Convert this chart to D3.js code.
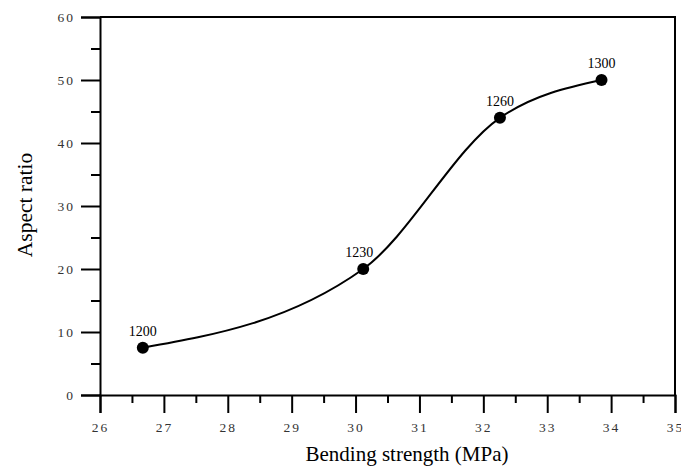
<!DOCTYPE html>
<html>
<head>
<meta charset="utf-8">
<script src="https://cdn.jsdelivr.net/npm/d3@7"></script>
<style>
  body { margin: 0; background: #fff; }
  svg text { font-family: "Liberation Serif", "Times New Roman", serif; }
</style>
</head>
<body>
<svg id="chart" width="681" height="469"></svg>
<script>
// data
const strength = [26.67, 30.12, 32.26, 33.85];
const aspect = [7.5, 20, 44, 50];
const temps = ["1200", "1230", "1260", "1300"];
const xTicks = [26, 27, 28, 29, 30, 31, 32, 33, 34, 35];
const yTicks = [0, 10, 20, 30, 40, 50, 60];

const svg = d3.select("#chart");
const plotL = 100, plotR = 675, plotT = 17, plotB = 395;

let x = d3.scaleLinear().domain([26, 35]).range([plotL, plotR]);
let y = d3.scaleLinear().domain([0, 60]).range([plotB, plotT]);

let points = strength.map((s, i) => ({ x: s, y: aspect[i], label: temps[i] }));

// frame (top and right)
svg.append("path")
    .attr("d", `M${plotL},${plotT}H${plotR}V${plotB}`)
    .attr("fill", "none")
    .attr("stroke", "#000")
    .attr("stroke-width", 2);

// x axis, major + minor ticks
svg.append("g").attr("transform", `translate(0,${plotB})`)
    .call(d3.axisBottom(x).tickValues(xTicks).tickSize(18).tickPadding(9).tickFormat(d3.format("d")));
svg.append("g").attr("transform", `translate(0,${plotB})`)
    .call(d3.axisBottom(x).tickValues(xTicks.slice(0, -1).map(d => d + 0.5)).tickSize(8).tickFormat(""))
    .call(g => g.select(".domain").remove());

// y axis
svg.append("g").attr("transform", `translate(${plotL},0)`)
    .call(d3.axisLeft(y).tickValues(yTicks).tickSize(19).tickPadding(6).tickFormat(d3.format("d")));
svg.append("g").attr("transform", `translate(${plotL},0)`)
    .call(d3.axisLeft(y).tickValues(yTicks.slice(0, -1).map(d => d + 5)).tickSize(9).tickFormat(""))
    .call(g => g.select(".domain").remove());

svg.selectAll(".tick line").attr("stroke", "#000").attr("stroke-width", 2);
svg.selectAll(".domain").attr("stroke", "#000").attr("stroke-width", 2);
svg.selectAll(".tick text")
    .attr("font-size", 13.5)
    .attr("fill", "#333")
    .attr("letter-spacing", "2px")
    .style("font-family", "'Liberation Serif', serif");

// fitted curve
let line = d3.line()
    .x(d => x(d.x))
    .y(d => y(d.y))
    .curve(d3.curveMonotoneX);

svg.append("path")
    .datum(points)
    .attr("d", line)
    .attr("fill", "none")
    .attr("stroke", "#000")
    .attr("stroke-width", 2);

// points and labels
svg.selectAll("circle.pt")
    .data(points)
    .enter()
    .append("circle")
    .attr("class", "pt")
    .attr("cx", d => x(d.x))
    .attr("cy", d => y(d.y))
    .attr("r", 6)
    .attr("fill", "#000");

svg.selectAll("text.pt-label")
    .data(points)
    .enter()
    .append("text")
    .attr("class", "pt-label")
    .attr("x", (d, i) => x(d.x) - (i === 1 ? 4 : 0))
    .attr("y", d => y(d.y) - 12)
    .attr("text-anchor", "middle")
    .attr("font-size", 14)
    .text(d => d.label);

// axis titles
svg.append("text")
    .attr("x", 407)
    .attr("y", 461)
    .attr("text-anchor", "middle")
    .attr("font-size", 21)
    .text("Bending strength (MPa)");

svg.append("text")
    .attr("transform", "translate(32,205) rotate(-90)")
    .attr("text-anchor", "middle")
    .attr("font-size", 21.5)
    .text("Aspect ratio");
</script>
</body>
</html>
